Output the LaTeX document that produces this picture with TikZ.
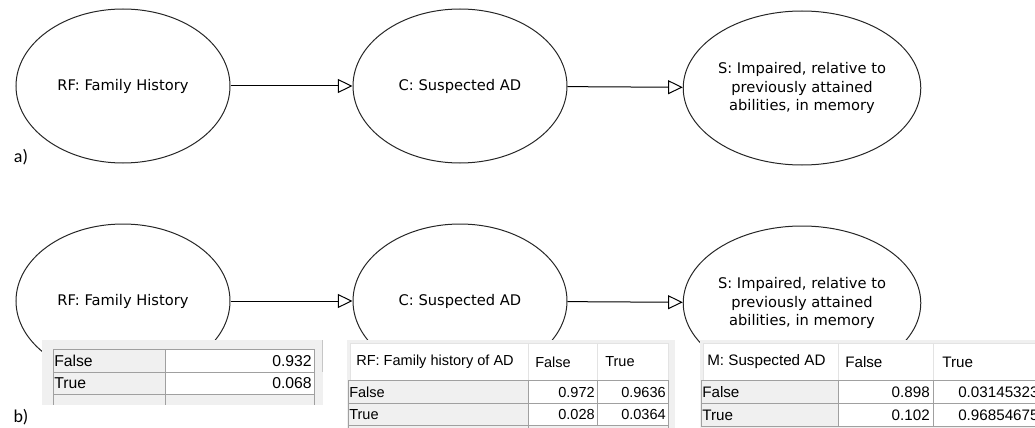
\documentclass[tikz,border=0pt]{standalone}
\usepackage{fontspec}
\usetikzlibrary{shapes}
\usetikzlibrary{arrows.meta}
\newfontfamily\netfont{DejaVu Sans}
\newfontfamily\tabfont{Liberation Sans}
\newfontfamily\partfont{Carlito}
\definecolor{panelgray}{HTML}{F0F0F0}
\definecolor{gridgray}{HTML}{A0A0A0}
\definecolor{headgray}{HTML}{E3E3E3}
\tikzset{
  bnode/.style={draw=black!85, line width=0.75pt, ellipse, minimum width=160.5pt,
    minimum height=115.5pt, inner sep=0pt, align=center,
    font=\netfont\fontsize{11}{13.9}\selectfont},
  link/.style={line width=0.75pt, -{Triangle[open,length=11pt,width=10.5pt]}},
  cell/.style={inner sep=0pt, font=\tabfont\fontsize{#1}{13}\selectfont},
  cell/.default=10.9,
  part/.style={inner sep=0pt, font=\partfont\fontsize{13.5}{16}\selectfont},
}

\begin{document}
\begin{tikzpicture}[x=0.75pt,y=-0.75pt]
\useasboundingbox (0,0) rectangle (1035,428);
% a) the network
\node[bnode] (rfa) at (123,86) {RF: Family History};
\node[bnode] (ca) at (460,86) {C: Suspected AD};
\node[bnode] (sa) at (802,88) {S: Impaired, relative to\\previously attained\\abilities, in memory};
\draw[link] (rfa) -- (ca);
\draw[link] (ca) -- (sa);
\node[part] (lba) at (21,157) {a)};
% b) the network again
\node[bnode] (rfb) at (123,301) {RF: Family History};
\node[bnode] (cb) at (460,301) {C: Suspected AD};
\node[bnode] (sb) at (802,303) {S: Impaired, relative to\\previously attained\\abilities, in memory};
\draw[link] (rfb) -- (cb);
\draw[link] (cb) -- (sb);
\node[part] (lbb) at (21,417) {b)};
% The tables
%     table of RF
\fill[panelgray] (42,340) rectangle (323,405);
\draw[gridgray, fill=panelgray] (53,349) rectangle (165,372);
\draw[gridgray, fill=panelgray] (53,372) rectangle (165,394);
\draw[gridgray, fill=white] (165,349) rectangle (314,372);
\draw[gridgray, fill=white] (165,372) rectangle (314,394);
\draw[gridgray] (53,394) -- (53,405) (165,394) -- (165,405) (314,394) -- (314,405);
\draw[gridgray!60] (322,340) -- (322,372);
\node[cell=11.8, anchor=west] (t1f) at (54,361) {False};
\node[cell=11.8, anchor=west] (t1t) at (54,383.5) {True};
\node[cell=11.8, anchor=east] (t1fv) at (312,361) {0.932};
\node[cell=11.8, anchor=east] (t1tv) at (312,383.5) {0.068};
%     table of C
\fill[panelgray] (347,340) rectangle (675,428);
\draw[headgray, fill=white] (350,343) rectangle (528,380);
\draw[headgray, fill=white] (528,343) rectangle (597,380);
\draw[headgray, fill=white] (597,343) rectangle (668,380);
\draw[gridgray, fill=panelgray] (348,380) rectangle (528,403);
\draw[gridgray, fill=panelgray] (348,403) rectangle (528,425);
\draw[gridgray, fill=white] (528,380) rectangle (597,403);
\draw[gridgray, fill=white] (597,380) rectangle (668,403);
\draw[gridgray, fill=white] (528,403) rectangle (597,425);
\draw[gridgray, fill=white] (597,403) rectangle (668,425);
\draw[gridgray] (348,425) -- (348,428) (528,425) -- (528,428) (668,425) -- (668,428);
\node[cell, anchor=west] (t2h) at (356,362) {RF: Family history of AD};
\node[cell, anchor=west] (t2hf) at (535,362) {False};
\node[cell, anchor=west] (t2ht) at (605,362) {True};
\node[cell, anchor=west] (t2f) at (349,392) {False};
\node[cell, anchor=west] (t2t) at (349,414.5) {True};
\node[cell, anchor=east] (t2ff) at (595,392) {0.972};
\node[cell, anchor=east] (t2ft) at (666,392) {0.9636};
\node[cell, anchor=east] (t2tf) at (595,414.5) {0.028};
\node[cell, anchor=east] (t2tt) at (666,414.5) {0.0364};
%     table of S
\fill[panelgray] (700,340) rectangle (1035,428);
\draw[headgray, fill=white] (703,343) rectangle (838,380);
\draw[headgray, fill=white] (838,343) rectangle (933,380);
\draw[headgray, fill=white] (933,343) rectangle (1045,380);
\draw[gridgray, fill=panelgray] (701,380) rectangle (838,403);
\draw[gridgray, fill=panelgray] (701,403) rectangle (838,426);
\draw[gridgray, fill=white] (838,380) rectangle (933,403);
\draw[gridgray, fill=white] (933,380) rectangle (1045,403);
\draw[gridgray, fill=white] (838,403) rectangle (933,426);
\draw[gridgray, fill=white] (933,403) rectangle (1045,426);
\node[cell=11.4, anchor=west] (t3h) at (707,362) {M: Suspected AD};
\node[cell=11.4, anchor=west] (t3hf) at (845,362) {False};
\node[cell=11.4, anchor=west] (t3ht) at (942,362) {True};
\node[cell=11.4, anchor=west] (t3f) at (702,392) {False};
\node[cell=11.4, anchor=west] (t3t) at (702,415) {True};
\node[cell=11.4, anchor=east] (t3ff) at (930,392) {0.898};
\node[cell=11.4, anchor=west] (t3ft) at (958,392) {0.03145323};
\node[cell=11.4, anchor=east] (t3tf) at (930,415) {0.102};
\node[cell=11.4, anchor=west] (t3tt) at (958,415) {0.96854675};
\end{tikzpicture}
\end{document}
